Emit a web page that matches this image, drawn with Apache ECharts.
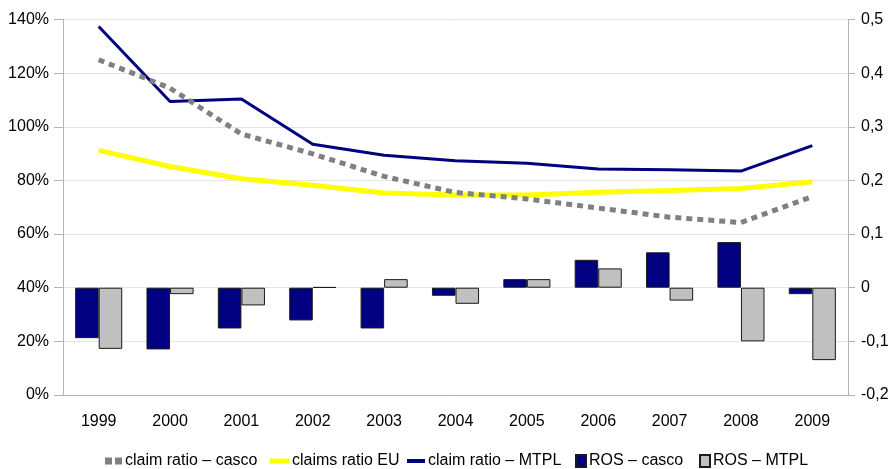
<!DOCTYPE html>
<html>
<head>
<meta charset="utf-8">
<script src="https://cdn.jsdelivr.net/npm/echarts@6/dist/echarts.min.js"></script>
<style>
  html, body { margin: 0; padding: 0; background: #fff; }
  #chart { width: 894px; height: 469px; }
</style>
</head>
<body>
<div id="chart"></div>
<script>
// Years on the category axis
const years = ['1999', '2000', '2001', '2002', '2003', '2004', '2005', '2006', '2007', '2008', '2009'];

// Claim ratios, in percent (left axis)
const claimRatioCasco = [125, 114.4, 97.3, 89.9, 81.5, 75.5, 73.1, 69.7, 66.3, 64.3, 74];
const claimsRatioEU   = [91.2, 85.2, 80.6, 78.2, 75.3, 74.6, 74.6, 75.6, 76.2, 77, 79.5];
const claimRatioMTPL  = [137.4, 109.4, 110.4, 93.5, 89.4, 87.3, 86.4, 84.3, 84, 83.5, 93];

// Return on sales (right axis)
const rosCasco = [-0.094, -0.115, -0.076, -0.061, -0.076, -0.015, 0.016, 0.052, 0.066, 0.085, -0.012];
const rosMTPL  = [-0.114, -0.012, -0.033, 0.001, 0.016, -0.03, 0.016, 0.036, -0.024, -0.1, -0.135];

// Axis ranges
const leftAxis  = { min: 0, max: 140, step: 20 };
const rightAxis = { min: -0.2, max: 0.5, step: 0.1 };

const FONT = '"Liberation Sans", Arial, sans-serif';
const AXIS_LINE = '#b3b3b3';
const GRID_LINE = '#e4e4e4';

const chart = echarts.init(document.getElementById('chart'), null, { renderer: 'canvas' });

function legendAt(left, name, icon, w, h) {
  return {
    data: [{ name: name, icon: icon }],
    left: left,
    top: 453,
    itemWidth: w,
    itemHeight: h,
    itemGap: 0,
    selectedMode: false,
    padding: 0,
    textStyle: { fontFamily: FONT, fontSize: 16, color: '#000', padding: [0, 0, 0, -2] }
  };
}

chart.setOption({
  animation: false,
  backgroundColor: '#fff',
  grid: { left: 63, right: 46, top: 19.5, bottom: 74, containLabel: false },
  legend: [
    legendAt(105, 'claim ratio – casco', 'path://M0,0h7v7h-7z M10,0h7v7h-7z', 17, 7),
    legendAt(270, 'claims ratio EU', 'rect', 19, 5),
    legendAt(407, 'claim ratio – MTPL', 'rect', 18, 4),
    legendAt(575, 'ROS – casco', 'rect', 10, 12),
    legendAt(699, 'ROS – MTPL', 'rect', 10, 12)
  ],
  xAxis: {
    type: 'category',
    data: years,
    boundaryGap: true,
    axisLine: { lineStyle: { color: AXIS_LINE, width: 1 } },
    axisTick: { alignWithLabel: true, length: 9, lineStyle: { color: AXIS_LINE } },
    axisLabel: { fontFamily: FONT, fontSize: 16, color: '#000', margin: 19 },
    splitLine: { show: false }
  },
  yAxis: [
    {
      type: 'value',
      position: 'left',
      min: leftAxis.min, max: leftAxis.max, interval: leftAxis.step,
      axisLine: { show: true, lineStyle: { color: AXIS_LINE } },
      axisTick: { show: true, length: 9, lineStyle: { color: AXIS_LINE } },
      axisLabel: { fontFamily: FONT, fontSize: 16, color: '#000', margin: 14, formatter: '{value}%' },
      splitLine: { show: true, lineStyle: { color: GRID_LINE, width: 1 } }
    },
    {
      type: 'value',
      position: 'right',
      min: rightAxis.min, max: rightAxis.max, interval: rightAxis.step,
      axisLine: { show: true, lineStyle: { color: AXIS_LINE } },
      axisTick: { show: true, length: 7, lineStyle: { color: AXIS_LINE } },
      axisLabel: {
        fontFamily: FONT, fontSize: 16, color: '#000', margin: 13,
        formatter: v => String(Math.round(v * 10) / 10).replace('.', ',')
      },
      splitLine: { show: false }
    }
  ],
  series: [
    {
      name: 'ROS – casco',
      type: 'bar',
      yAxisIndex: 1,
      data: rosCasco,
      barGap: '0%',
      barCategoryGap: '34%',
      itemStyle: { color: '#000080', borderColor: '#1a1a1a', borderWidth: 1 },
      z: 2
    },
    {
      name: 'ROS – MTPL',
      type: 'bar',
      yAxisIndex: 1,
      data: rosMTPL,
      barGap: '0%',
      barCategoryGap: '34%',
      itemStyle: { color: '#c0c0c0', borderColor: '#1a1a1a', borderWidth: 1 },
      z: 2
    },
    {
      name: 'claim ratio – MTPL',
      type: 'line',
      yAxisIndex: 0,
      data: claimRatioMTPL,
      symbol: 'none',
      lineStyle: { color: '#000080', width: 3 },
      itemStyle: { color: '#000080' },
      z: 3
    },
    {
      name: 'claims ratio EU',
      type: 'line',
      yAxisIndex: 0,
      data: claimsRatioEU,
      symbol: 'none',
      lineStyle: { color: '#ffff00', width: 5 },
      itemStyle: { color: '#ffff00' },
      z: 4
    },
    {
      name: 'claim ratio – casco',
      type: 'line',
      yAxisIndex: 0,
      data: claimRatioCasco,
      symbol: 'none',
      lineStyle: { color: '#808080', width: 5, type: [6, 5], cap: 'butt' },
      itemStyle: { color: '#808080' },
      z: 5
    }
  ]
});
</script>
</body>
</html>
